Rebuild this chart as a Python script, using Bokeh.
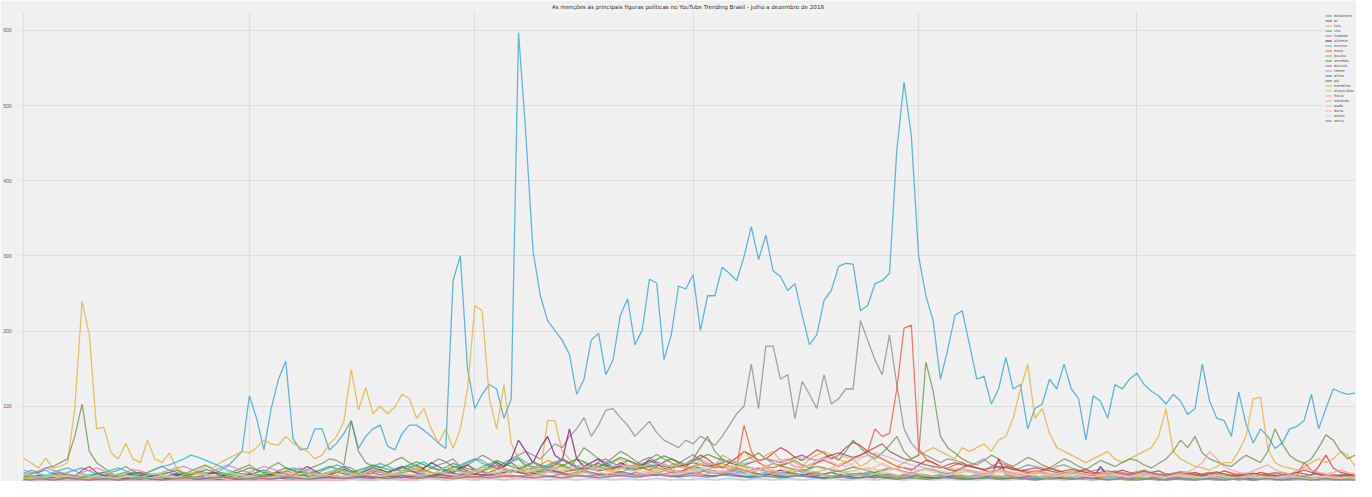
import pandas as pd
from bokeh.plotting import figure
from bokeh.models import Range1d, FixedTicker, MonthsTicker, Legend, LegendItem
from bokeh.embed import file_html
from bokeh.resources import INLINE

title_text = "As menções às principais figuras políticas no YouTube Trending Brasil - julho a dezembro de 2018"
start_date = "2018-07-01"
n_days = 184
y_ticks = [100, 200, 300, 400, 500, 600]

names = ["bolsonaro", "pt", "lula", "ciro", "haddad", "alckmin", "marina", "moro",
         "boulos", "amoêdo", "daciolo", "temer", "dilma", "psl", "meirelles",
         "álvaro dias", "flávio", "eduardo", "psdb", "doria", "witzel", "aécio"]

colors = ["#30a2da", "#d62728", "#e5ae38", "#6d904f", "#8b8b8b", "#810f7c", "#17becf", "#fc4f30",
          "#ff7f0e", "#2ca02c", "#9467bd", "#e377c2", "#1f77b4", "#8c564b", "#bcbd22",
          "#98df8a", "#ff9896", "#c5b0d5", "#aec7e8", "#ffbb78", "#f7b6d2", "#7f7f7f"]

bolsonaro = [8,10,12,15,10,8,12,15,18,14,
 10,8,6,10,12,8,6,5,8,10,
 12,9,8,10,14,12,10,15,20,30,
 40,114,84,42,97,136,160,57,42,44,
 70,70,42,51,64,81,44,60,70,75,
 47,42,64,75,75,68,60,51,44,267,
 300,149,97,116,129,123,84,110,597,463,
 306,247,214,201,188,169,116,136,188,197,
 142,162,221,243,182,201,269,264,162,195,
 260,256,275,201,247,247,285,277,267,299,
 339,295,328,280,273,254,263,221,182,195,
 241,254,286,290,289,227,234,263,267,277,
 440,531,460,300,247,214,136,175,221,227,
 182,136,140,103,123,165,123,129,70,97,
 103,136,123,156,123,110,55,114,107,84,
 129,123,136,144,129,120,114,103,116,107,
 89,97,156,107,84,81,60,119,77,51,
 70,60,44,51,70,73,81,116,70,97,
 123,119,116,118]

pt = [5,8,6,4,10,12,8,6,15,20,
 12,8,6,5,8,10,12,9,7,6,
 5,8,10,6,4,8,12,10,7,5,
 6,9,12,15,10,8,6,10,14,12,
 8,6,10,15,20,14,10,8,12,16,
 12,10,14,18,22,16,12,10,15,20,
 18,14,10,8,12,16,20,25,18,12,
 10,14,18,22,30,25,18,14,20,24,
 20,16,22,28,24,18,15,20,26,30,
 25,20,28,35,30,22,18,25,32,40,
 35,28,30,38,45,40,32,28,35,42,
 38,30,35,45,52,48,40,35,30,25,
 20,18,15,22,28,25,20,16,14,18,
 22,18,15,12,16,20,18,14,12,10,
 14,18,15,12,10,14,16,12,10,8,
 12,15,12,10,8,12,14,10,8,6,
 10,12,9,7,10,14,11,8,6,9,
 12,10,8,6,9,12,10,8,20,35,
 18,12,10,8]

lula = [31,25,18,31,18,20,25,97,240,195,
 70,72,38,30,51,30,25,55,30,25,
 38,18,12,10,15,20,18,25,30,35,
 40,38,45,55,50,48,60,51,45,40,
 30,35,50,60,80,149,95,125,90,100,
 90,99,116,110,84,97,70,51,70,44,
 70,123,234,227,110,70,129,51,31,18,
 15,12,81,81,40,30,20,25,18,15,
 20,25,30,22,18,25,20,15,18,22,
 25,20,18,30,25,20,35,30,25,40,
 30,25,35,40,28,30,25,20,30,35,
 40,35,30,25,30,20,25,35,30,25,
 20,25,30,35,40,45,40,35,30,45,
 40,45,50,40,55,60,84,123,156,84,
 97,64,45,40,35,30,25,30,35,40,
 30,25,30,35,40,45,60,97,40,30,
 25,20,18,15,20,25,25,40,60,110,
 112,44,25,20,18,15,20,25,30,25,
 30,40,35,20]

ciro = [10,15,12,18,20,25,30,60,103,40,
 25,18,12,15,20,14,10,12,16,20,
 15,12,10,14,18,22,16,12,10,14,
 18,22,16,12,20,25,18,14,12,16,
 20,24,30,28,22,81,40,25,20,18,
 22,28,32,25,20,18,24,30,26,20,
 16,22,28,35,30,24,20,26,30,22,
 18,15,20,25,22,18,30,45,38,30,
 25,32,40,35,28,22,30,36,30,25,
 20,24,30,45,60,40,30,25,22,28,
 32,38,30,25,20,24,28,22,18,25,
 30,35,28,40,55,45,36,30,38,48,
 60,40,30,35,159,120,60,45,38,30,
 25,22,28,35,30,24,20,26,32,28,
 22,18,24,30,26,20,16,22,28,24,
 20,25,30,28,22,18,24,30,40,55,
 45,60,38,30,26,22,20,28,35,30,
 25,40,70,50,35,28,24,30,45,62,
 55,40,30,35]

haddad = [2,3,2,1,2,3,2,4,3,2,
 2,3,2,1,2,3,4,3,2,3,
 4,3,2,5,6,4,3,2,5,6,
 5,4,6,8,10,8,6,5,8,10,
 12,10,8,15,20,18,12,10,15,14,
 12,15,18,20,15,12,18,22,25,30,
 20,25,30,28,22,18,25,30,35,40,
 35,30,40,50,45,60,70,85,60,75,
 95,97,85,75,60,70,80,65,55,50,
 45,55,50,60,55,48,60,75,90,100,
 156,97,180,180,136,142,84,133,116,97,
 142,103,110,123,123,214,188,162,142,195,
 129,70,51,40,35,30,25,30,28,25,
 20,25,30,22,18,20,15,18,22,20,
 18,15,20,22,18,15,12,14,16,12,
 14,12,10,13,15,12,10,9,11,13,
 12,10,9,11,13,10,8,9,11,10,
 9,8,10,12,9,8,7,9,10,8,
 7,9,8,7]

alckmin = [2,3,4,2,5,6,4,3,5,8,
 6,4,3,5,7,9,6,4,3,5,
 8,10,7,5,6,9,12,8,6,5,
 7,10,8,6,9,12,10,8,15,20,
 14,10,8,12,16,12,10,14,18,15,
 12,16,20,15,12,18,25,20,15,12,
 18,22,16,12,20,26,20,30,55,40,
 25,45,60,35,28,70,30,20,25,30,
 22,18,25,20,16,22,28,24,18,15,
 12,16,20,18,14,12,10,14,18,15,
 12,10,8,12,15,12,10,8,10,12,
 9,7,6,8,10,8,6,5,7,9,
 7,5,6,8,6,5,4,6,8,6,
 5,4,6,8,30,10,6,5,7,6,
 5,4,3,5,6,4,3,5,20,8,
 5,4,6,5,3,4,5,6,4,3,
 4,5,3,4,6,5,4,3,5,4,
 3,5,4,6,5,4,3,5,4,3,
 4,5,3,4]

marina = [15,12,10,8,12,15,18,14,10,8,
 10,12,15,18,14,10,8,12,16,20,
 22,26,30,35,32,28,24,20,15,12,
 10,8,12,15,12,10,14,18,15,12,
 10,14,18,22,18,14,12,16,20,24,
 20,16,14,18,22,26,20,16,14,18,
 22,26,30,24,20,18,22,28,32,26,
 20,18,22,26,30,24,20,18,16,20,
 24,20,18,16,14,18,22,18,15,12,
 10,14,18,15,12,10,12,14,12,10,
 8,10,12,10,8,9,11,9,7,8,
 10,12,9,7,8,10,12,10,8,7,
 6,8,10,8,6,7,9,8,6,5,
 7,9,8,6,5,7,8,6,5,4,
 6,7,5,4,6,8,6,5,4,6,
 7,5,4,6,5,4,3,5,6,4,
 5,6,4,3,5,4,6,5,4,3,
 5,4,3,5,6,4,3,4,5,4,
 3,4,5,3]

moro = [3,4,2,3,5,4,3,2,4,5,
 3,2,4,5,3,2,3,4,2,3,
 4,3,2,3,5,4,3,2,3,4,
 5,4,3,4,6,5,4,3,4,5,
 6,5,4,5,7,6,5,4,5,6,
 7,6,5,6,8,7,6,5,6,7,
 8,7,6,7,9,8,7,6,7,8,
 9,8,7,8,10,9,8,7,8,9,
 10,9,8,9,12,10,9,8,10,12,
 14,12,10,12,16,14,12,15,20,75,
 40,25,20,18,22,25,20,18,22,25,
 28,24,20,25,30,35,40,70,60,64,
 123,204,208,44,30,25,20,18,22,25,
 20,18,15,20,25,22,18,15,14,12,
 15,18,14,12,10,13,16,12,10,9,
 12,10,8,11,14,10,8,7,9,11,
 9,8,10,12,9,7,8,10,8,6,
 8,10,12,9,7,8,25,15,10,8,
 9,7,8,6]

boulos = [4,6,8,5,3,6,9,7,5,4,
 6,8,10,7,5,4,6,8,7,5,
 4,6,8,10,12,9,7,5,6,8,
 10,12,9,7,8,10,14,11,9,7,
 8,10,12,15,12,10,8,11,14,12,
 10,8,12,15,18,14,12,10,13,16,
 14,12,10,14,18,22,18,14,12,15,
 18,22,28,24,20,16,14,18,22,20,
 16,14,12,16,20,18,15,12,14,18,
 22,18,15,12,16,20,24,20,16,14,
 12,15,18,14,12,10,13,16,12,10,
 9,12,14,11,9,8,10,12,10,8,
 7,9,11,9,7,6,8,10,8,7,
 6,8,10,8,6,5,7,9,8,6,
 5,7,8,6,5,4,6,8,7,5,
 4,6,7,5,4,6,8,6,5,4,
 5,6,4,3,5,7,6,4,3,5,
 6,5,4,6,5,3,4,5,4,3,
 4,5,4,3]

amoedo = [6,8,5,4,7,10,8,6,5,8,
 10,12,8,6,9,12,10,8,7,9,
 12,15,11,9,12,16,13,10,8,11,
 14,18,15,12,10,14,18,15,12,10,
 13,16,20,17,14,12,15,18,22,19,
 16,14,18,22,26,22,18,15,19,24,
 20,17,15,19,23,28,24,20,17,21,
 26,22,19,17,21,25,30,26,22,19,
 23,27,32,28,24,21,25,29,34,30,
 26,23,27,31,36,32,28,25,22,20,
 18,16,20,24,21,18,16,14,17,20,
 18,15,13,16,19,17,14,12,15,18,
 16,13,11,14,17,15,12,10,13,16,
 14,11,9,12,15,13,10,8,11,14,
 12,9,8,11,13,11,9,7,10,12,
 10,8,7,9,11,9,8,6,8,10,
 9,7,6,8,10,8,7,5,7,9,
 8,6,5,7,9,7,6,5,6,8,
 7,5,6,7]

daciolo = [2,3,2,4,3,2,3,4,2,3,
 4,3,2,3,4,5,3,2,3,4,
 3,2,4,5,3,2,4,3,2,3,
 4,5,3,4,6,5,4,3,5,4,
 3,4,6,8,5,4,6,5,4,6,
 8,6,5,7,9,7,6,8,10,12,
 15,12,10,14,18,22,16,12,15,20,
 25,20,16,22,28,24,18,16,20,26,
 30,24,20,18,22,28,32,26,22,18,
 24,30,36,28,22,18,20,16,14,12,
 15,18,14,12,10,13,16,12,10,8,
 10,12,9,8,10,11,9,7,8,10,
 8,7,6,8,9,7,6,5,7,8,
 6,5,4,6,7,5,4,3,5,6,
 5,4,3,4,5,4,3,2,4,5,
 4,3,2,3,4,3,2,3,4,3,
 2,3,4,3,2,3,4,2,3,2,
 3,4,2,3,2,3,4,3,2,3,
 2,3,2,3]

temer = [12,10,14,18,15,12,10,8,12,15,
 18,14,10,8,12,16,14,11,9,12,
 15,18,20,16,12,10,14,18,22,18,
 14,12,16,20,17,14,12,15,18,15,
 12,10,13,16,14,11,9,12,15,12,
 10,8,11,14,12,10,8,10,13,11,
 9,12,15,12,10,8,11,14,12,10,
 8,10,13,11,9,7,10,12,10,8,
 7,9,11,9,7,6,8,10,8,6,
 8,10,12,10,8,7,9,11,9,7,
 6,8,10,8,6,5,7,9,7,6,
 5,7,9,7,5,4,6,8,6,5,
 7,9,12,10,8,6,8,10,8,6,
 5,7,9,7,6,8,10,8,6,5,
 7,9,7,5,4,6,8,6,5,4,
 6,8,6,5,4,6,7,5,4,3,
 5,7,5,4,3,5,6,4,3,4,
 6,5,4,3,5,6,4,3,4,5,
 4,3,4,5]

dilma = [3,5,8,6,4,3,5,7,5,4,
 6,8,6,5,4,6,8,7,5,4,
 5,7,9,7,5,4,6,8,6,5,
 4,6,8,10,8,6,5,7,9,7,
 6,8,10,12,10,8,7,9,11,9,
 8,10,12,14,11,9,8,10,13,11,
 9,11,14,12,10,9,12,15,13,11,
 10,12,15,13,11,10,12,14,12,10,
 9,11,13,11,9,8,10,12,10,8,
 7,9,11,9,8,7,9,10,8,7,
 6,8,10,8,7,6,8,9,7,6,
 5,7,9,7,6,5,7,8,6,5,
 4,6,8,6,5,4,6,7,5,4,
 3,5,7,5,4,3,5,6,4,3,
 4,5,6,4,3,4,5,6,4,3,
 4,5,4,3,4,5,4,3,4,5,
 4,3,4,5,4,3,4,5,4,3,
 4,5,4,3,4,5,4,3,4,5,
 4,3,4,3]

psl = [1,2,1,2,3,2,1,2,3,2,
 2,3,2,1,2,3,2,1,2,3,
 2,3,4,3,2,3,4,3,2,3,
 4,3,2,3,4,5,4,3,4,5,
 4,5,6,5,4,5,6,7,6,5,
 6,7,8,7,6,7,8,9,8,7,
 8,9,10,9,8,10,12,14,12,10,
 12,14,16,14,12,14,16,18,16,14,
 16,18,20,18,16,18,20,22,20,18,
 20,22,25,22,20,22,25,28,25,22,
 25,28,30,28,25,28,32,35,30,28,
 32,35,38,35,32,35,40,45,50,40,
 35,30,28,25,22,20,18,22,25,22,
 20,18,16,18,20,18,16,14,16,18,
 16,14,12,14,16,14,12,10,12,14,
 12,10,9,11,13,11,9,8,10,12,
 10,9,8,10,12,10,8,7,9,11,
 9,8,7,9,10,12,15,12,9,8,
 7,8,9,7]

meirelles = [8,6,5,7,9,7,6,5,7,8,
 6,5,4,6,8,7,5,4,6,7,
 5,4,6,8,10,8,6,5,7,9,
 7,6,8,10,12,10,8,7,9,11,
 9,8,10,12,14,12,10,9,11,13,
 11,10,12,14,16,14,12,11,13,15,
 13,12,14,16,18,16,14,13,15,17,
 15,14,16,18,20,18,16,15,17,19,
 17,16,18,20,22,20,18,17,19,21,
 19,18,20,22,24,22,20,19,21,23,
 10,8,7,9,11,9,8,7,8,10,
 8,7,6,8,9,8,7,6,7,8,
 7,6,5,7,8,7,6,5,6,7,
 6,5,4,6,7,6,5,4,5,6,
 5,4,3,5,6,5,4,3,4,5,
 4,3,2,4,5,4,3,2,3,4,
 3,2,3,4,3,2,3,4,3,2,
 3,4,3,2,3,4,3,2,3,4,
 3,2,3,2]

alvaro = [5,3,4,6,8,5,4,6,9,7,
 5,4,7,10,8,6,5,8,11,9,
 7,6,9,12,10,8,6,9,13,10,
 8,7,10,14,11,9,7,10,15,12,
 10,8,12,16,13,10,8,12,17,14,
 11,9,13,18,14,11,9,14,20,16,
 12,10,15,20,16,12,10,15,22,17,
 13,11,16,21,17,13,11,16,23,18,
 14,12,17,22,18,14,12,17,24,19,
 12,10,14,18,15,12,10,14,19,15,
 10,8,11,14,12,9,8,11,15,12,
 9,7,10,12,10,8,7,10,13,10,
 8,6,8,10,9,7,6,8,11,9,
 7,5,7,9,8,6,5,7,10,8,
 6,5,6,8,7,5,4,6,9,7,
 5,4,6,7,6,4,3,5,8,6,
 5,4,5,6,5,4,3,5,7,5,
 4,3,5,6,5,3,2,4,6,5,
 4,3,4,5]

flavio = [1,1,2,1,1,2,1,1,2,1,
 2,1,1,2,1,2,1,1,2,1,
 1,2,1,2,1,1,2,1,2,1,
 2,1,2,3,2,1,2,3,2,1,
 2,3,2,1,2,3,4,3,2,3,
 4,3,2,3,4,5,4,3,4,5,
 6,5,4,5,6,8,10,8,6,5,
 7,9,8,6,5,7,9,8,6,7,
 9,11,9,7,8,10,12,10,8,9,
 11,13,11,9,10,12,14,12,10,11,
 13,15,13,11,12,14,16,14,12,13,
 15,17,15,13,14,16,18,16,14,15,
 17,19,17,15,16,18,20,18,16,17,
 15,13,12,14,16,14,12,11,13,15,
 13,11,10,12,14,12,10,9,11,13,
 11,9,8,10,12,10,8,7,9,11,
 12,18,25,40,30,20,15,12,10,14,
 18,22,16,12,10,14,18,15,12,10,
 12,15,12,10]

eduardo = [2,3,2,3,4,3,2,3,4,3,
 2,3,4,3,2,3,4,5,4,3,
 2,3,4,5,4,3,4,5,6,5,
 4,5,6,5,4,5,6,7,6,5,
 6,7,8,7,6,7,8,9,8,7,
 8,9,10,9,8,9,10,12,10,9,
 10,12,14,12,10,12,14,16,14,12,
 14,16,18,16,14,16,18,20,18,16,
 18,20,22,20,18,20,22,24,22,20,
 22,24,26,24,22,24,26,28,26,24,
 26,28,30,28,26,28,30,32,30,28,
 30,32,35,32,30,32,35,38,35,32,
 28,25,22,20,18,16,14,12,10,12,
 14,12,10,12,14,12,10,8,10,12,
 10,8,7,9,11,9,7,6,8,10,
 8,7,6,8,9,8,6,5,7,8,
 7,6,5,7,8,7,5,4,6,7,
 6,5,4,6,7,6,4,3,5,6,
 5,4,5,4]

psdb = [10,8,6,5,7,9,7,5,4,6,
 8,6,5,4,6,8,6,5,4,5,
 7,5,4,3,5,7,5,4,3,4,
 6,5,4,3,5,6,5,4,3,4,
 5,4,3,2,4,5,4,3,2,3,
 5,4,3,2,4,5,4,3,2,3,
 4,3,2,3,4,3,2,3,4,3,
 4,3,2,3,4,3,2,3,4,3,
 3,2,3,4,3,2,3,4,3,2,
 3,2,3,4,3,2,3,4,3,2,
 3,4,3,2,3,4,3,2,3,4,
 3,4,3,2,3,4,3,2,3,4,
 3,2,3,4,3,2,3,4,3,2,
 3,2,3,4,3,2,3,4,3,2,
 3,4,3,2,3,4,3,2,3,4,
 3,4,3,2,3,4,3,2,3,4,
 3,2,3,4,3,2,3,4,3,2,
 3,2,3,4,3,2,3,4,3,2,
 3,4,3,2]

doria = [3,5,4,2,3,6,8,5,3,4,
 6,4,3,5,7,5,4,3,6,8,
 6,4,3,5,8,10,7,5,4,6,
 9,7,5,4,6,8,11,9,6,5,
 7,10,8,6,5,8,12,9,7,6,
 8,11,14,10,8,7,10,13,11,8,
 7,9,12,16,12,9,8,11,15,12,
 9,8,12,18,14,10,9,13,17,13,
 10,12,16,20,15,11,10,14,19,15,
 12,14,18,22,17,13,12,16,21,17,
 14,16,20,25,19,15,14,18,23,19,
 16,18,22,28,21,17,15,19,24,20,
 15,12,10,14,18,14,11,9,12,16,
 13,10,8,11,15,12,9,8,10,13,
 11,9,7,10,13,10,8,6,9,12,
 10,8,6,9,11,9,7,5,8,10,
 9,7,5,8,10,8,6,5,7,9,
 8,6,5,7,9,7,5,4,6,8,
 7,5,6,7]

witzel = [1,2,1,1,2,1,2,1,1,2,
 1,1,2,1,2,1,1,2,1,1,
 2,1,1,2,1,2,1,1,2,1,
 1,2,1,2,1,1,2,1,2,1,
 2,1,2,1,2,3,2,1,2,3,
 2,3,2,1,2,3,4,3,2,3,
 4,3,2,3,4,5,4,3,4,5,
 4,5,6,5,4,5,6,7,6,5,
 6,7,8,7,6,8,10,12,10,8,
 10,12,15,18,14,12,15,20,25,22,
 18,15,20,26,30,25,20,18,22,28,
 32,26,22,20,24,30,35,28,22,18,
 15,12,10,14,16,12,10,8,11,14,
 12,10,8,10,12,10,8,7,9,11,
 9,8,7,9,10,8,7,6,8,9,
 8,7,6,8,9,7,6,5,7,8,
 7,6,5,7,8,6,5,4,6,7,
 6,5,4,6,7,5,4,3,5,6,
 5,4,5,4]

aecio = [3,2,4,3,2,3,5,4,3,2,
 3,4,3,2,3,4,5,4,3,2,
 3,4,5,4,3,4,5,6,5,4,
 3,4,5,4,3,4,6,5,4,3,
 4,5,6,5,4,5,6,7,6,5,
 4,5,6,5,4,5,7,6,5,4,
 5,6,7,6,5,6,7,8,7,6,
 5,6,7,6,5,6,8,7,6,5,
 6,7,8,7,6,7,8,9,8,7,
 6,7,8,7,6,7,9,8,7,6,
 5,6,7,6,5,6,8,7,6,5,
 4,5,6,5,4,5,7,6,5,4,
 3,4,5,4,3,4,6,5,4,3,
 3,4,5,4,3,4,5,4,3,2,
 3,4,5,4,3,4,5,4,3,2,
 3,4,3,2,3,4,3,2,3,4,
 3,2,3,4,3,2,3,4,3,2,
 3,4,3,2,3,4,3,2,3,4,
 3,2,3,2]

series = [bolsonaro, pt, lula, ciro, haddad, alckmin, marina, moro, boulos, amoedo,
          daciolo, temer, dilma, psl, meirelles, alvaro, flavio, eduardo, psdb,
          doria, witzel, aecio]

dates = pd.date_range(start_date, periods=n_days, freq="D")
day = pd.Timedelta(days=1)

p = figure(width=1356, height=481, x_axis_type="datetime",
           output_backend="svg", toolbar_location=None,
           x_range=Range1d(dates[0] - 0.6 * day, dates[-1] + 0.2 * day),
           y_range=Range1d(0, 625),
           background_fill_color="#f0f0f0", border_fill_color="#f0f0f0",
           min_border_left=0, min_border_right=0, min_border_top=10, min_border_bottom=0)

p.title.text = title_text
p.title.align = "center"
p.title.text_font = "DejaVu Sans"
p.title.text_font_size = "5.6px"
p.title.text_font_style = "normal"
p.title.text_color = "#333333"
p.title.standoff = 3
p.title.offset = 0

p.outline_line_color = None
p.xaxis.visible = False
p.xgrid.ticker = MonthsTicker(months=list(range(1, 13)))
p.xgrid.grid_line_color = "#dedede"
p.xgrid.grid_line_width = 1

p.yaxis.ticker = FixedTicker(ticks=y_ticks)
p.yaxis.axis_line_color = None
p.yaxis.major_tick_line_color = None
p.yaxis.minor_tick_line_color = None
p.yaxis.major_label_text_font_size = "5px"
p.yaxis.major_label_text_color = "#666666"
p.yaxis.major_label_standoff = 2
p.ygrid.grid_line_color = "#dedede"
p.ygrid.grid_line_width = 1

items = []
for name, vals, col in zip(names, series, colors):
    r = p.line(dates[:len(vals)], vals, line_color=col, line_width=1.3, line_alpha=0.75)
    items.append(LegendItem(label=name, renderers=[r]))

legend = Legend(items=items, location="top_right",
                label_text_font_size="3.6px", label_text_font="DejaVu Sans",
                label_text_color="#555555",
                label_height=5, glyph_height=5, glyph_width=7,
                label_standoff=2, spacing=0, padding=2, margin=0,
                background_fill_color="#f0f0f0", background_fill_alpha=0.9,
                border_line_alpha=0)
p.add_layout(legend)

open("out.html", "w").write(file_html(p, INLINE))
